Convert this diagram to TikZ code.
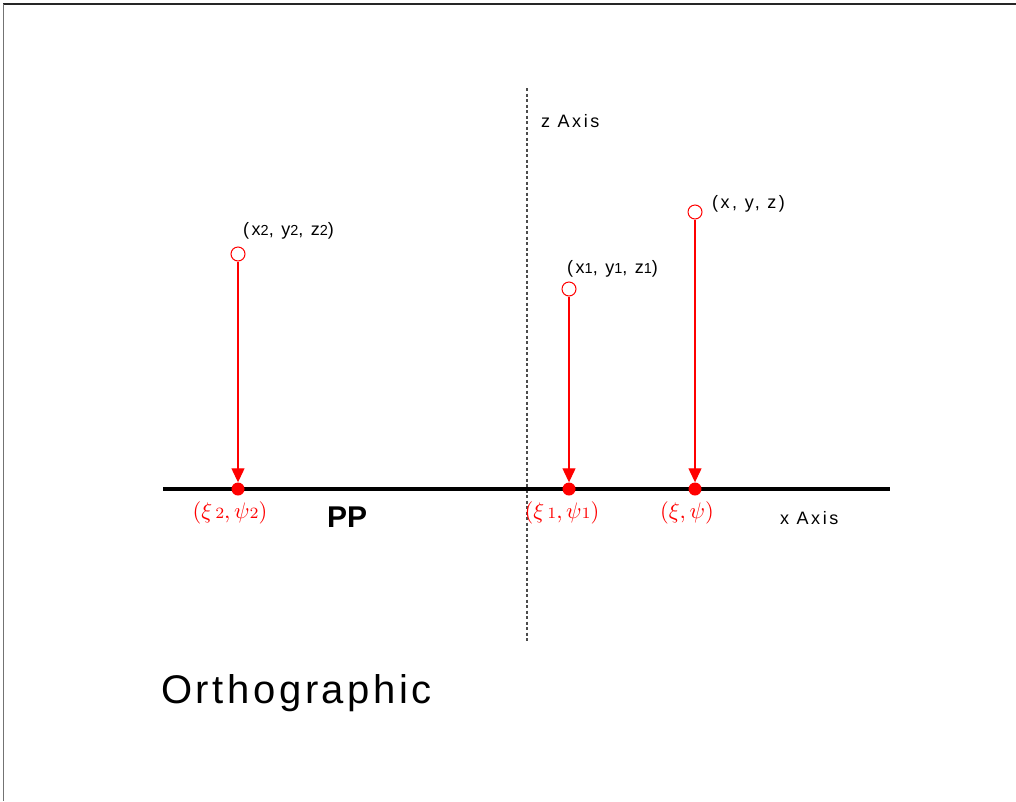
\documentclass[tikz,border=0pt]{standalone}
\usepackage{fontspec}
\usepackage{graphicx}
\setmainfont{Liberation Sans}
\newfontfamily\labfont[LetterSpace=14]{Liberation Sans}
\newfontfamily\orthofont[LetterSpace=9]{Liberation Sans}
\usetikzlibrary{arrows.meta}
\definecolor{pred}{RGB}{255,0,0}
\newcommand{\subd}[1]{{\fontsize{14.5}{15}\selectfont #1}}
\begin{document}
\begin{tikzpicture}[x=1pt,y=-1pt,
  lab/.style={font=\labfont\fontsize{18}{20}\selectfont, inner sep=0pt, anchor=base west},
  mlab/.style={text=pred, inner sep=0pt, anchor=center},
  opt/.style={circle, draw=pred, line width=1pt, minimum size=14pt, inner sep=0pt},
  proj/.style={circle, fill=pred, minimum size=13pt, inner sep=0pt},
  projline/.style={draw=pred, line width=1.2pt, -{Triangle[length=14pt,width=13pt]}},
  axis/.style={line width=3.2pt, black},
  zaxis/.style={line width=1.2pt, black!70, dash pattern=on 3pt off 2.5pt}]
\useasboundingbox (0,0) rectangle (1016,801);
% frame (top and left)
\draw[line width=1.6pt, black!85] (1016,4) -- (3,4);
\draw[line width=0.8pt, black!55] (3,4) -- (3,801);
% axes
\coordinate (xl) at (163,489);
\coordinate (xr) at (890,489);
\coordinate (zt) at (527,88);
\coordinate (zb) at (527,643);
\draw[zaxis] (zt) -- (zb);
\draw[axis] (xl) -- (xr);
\node[lab] (zlab) at (541,127) {z Axis};
\node[lab] (xlab) at (780,524) {x Axis};
% points
\node[opt] (c2) at (238,254) {};
\node[opt] (c1) at (569,289) {};
\node[opt] (c0) at (695,212) {};
\node[proj] (d2) at (238,489) {};
\node[proj] (d1) at (569,489) {};
\node[proj] (d0) at (695,489) {};
\draw[projline] (c2.south) -- (d2.north);
\draw[projline] (c1.south) -- (d1.north);
\draw[projline] (c0.south) -- (d0.north);
% labels of space points
\node[lab] (l2) at (243,235) {(x\subd{2}, y\subd{2}, z\subd{2})};
\node[lab] (l1) at (567,273) {(x\subd{1}, y\subd{1}, z\subd{1})};
\node[lab] (l0) at (712,208) {(x, y, z)};
% labels of projections
\node[mlab] (m2) at (230,513) {\scalebox{2.25}{$(\xi{\scriptstyle\,2},\psi{\scriptstyle 2})$}};
\node[mlab] (m1) at (562,513) {\scalebox{2.25}{$(\xi{\scriptstyle\,1},\psi{\scriptstyle 1})$}};
\node[mlab] (m0) at (687,513) {\scalebox{2.25}{$(\xi,\psi)$}};
% PP and title
\node[font=\bfseries\fontsize{30}{32}\selectfont, inner sep=0pt, anchor=base west] (pp) at (327,527) {PP};
\node[font=\orthofont\fontsize{40}{44}\selectfont, inner sep=0pt, anchor=base west] (title) at (161,703) {Orthographic};
\end{tikzpicture}
\end{document}
